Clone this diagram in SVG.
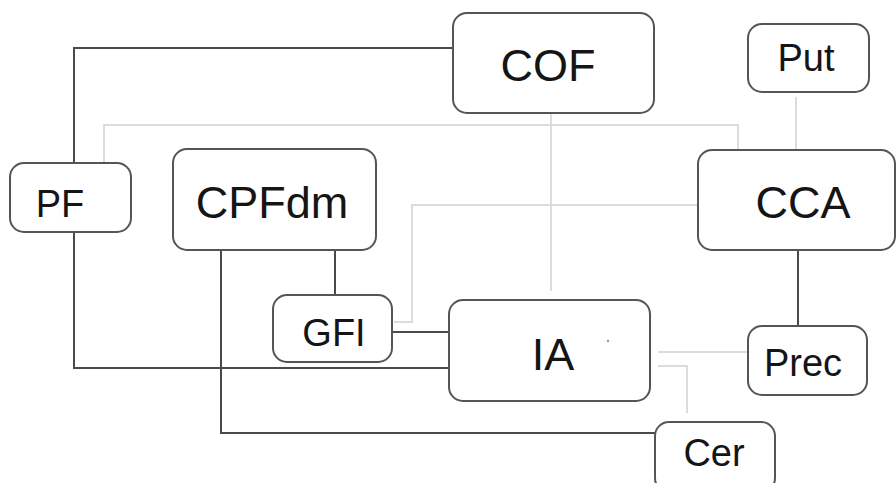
<svg xmlns="http://www.w3.org/2000/svg" width="896" height="483" viewBox="0 0 896 483">
  <style>
    .box { fill: #ffffff; stroke: #555555; stroke-width: 2; }
    .lbl { font-family: "Liberation Sans", Arial, sans-serif; fill: #151515; text-anchor: middle; }
    .big { font-size: 45px; }
    .small { font-size: 38px; }
    .dark { fill: none; stroke: #4a4a4a; stroke-width: 2; }
    .light { fill: none; stroke: #dcdcdc; stroke-width: 2; }
  </style>
  <rect width="896" height="483" fill="#ffffff"/>

  <g id="connectors">
    <!-- strong links -->
    <polyline class="dark" points="74,163 74,48 453,48"/>
    <polyline class="dark" points="74,232 74,368 449,368"/>
    <polyline class="dark" points="335,250 335,295"/>
    <polyline class="dark" points="392,332 449,332"/>
    <polyline class="dark" points="221,250 221,433 655,433"/>
    <polyline class="dark" points="798,250 798,326"/>
    <!-- weak links -->
    <polyline class="light" points="104,163 104,125 738,125 738,150"/>
    <polyline class="light" points="551,113 551,291"/>
    <polyline class="light" points="796,97 796,150"/>
    <polyline class="light" points="698,205 412,205 412,322 394,322"/>
    <polyline class="light" points="658,352 748,352"/>
    <polyline class="light" points="658,366 687,366 687,413"/>
  </g>

  <g id="node-COF">
    <rect class="box" x="453" y="13" width="201" height="100" rx="14"/>
    <text class="lbl big" x="548" y="81">COF</text>
  </g>
  <g id="node-Put">
    <rect class="box" x="748" y="24" width="121" height="68" rx="14"/>
    <text class="lbl small" x="806" y="71">Put</text>
  </g>
  <g id="node-PF">
    <rect class="box" x="10" y="163" width="121" height="69" rx="14"/>
    <text class="lbl small" x="60" y="217">PF</text>
  </g>
  <g id="node-CPFdm">
    <rect class="box" x="173" y="149" width="203" height="101" rx="14"/>
    <text class="lbl big" x="272" y="218">CPFdm</text>
  </g>
  <g id="node-CCA">
    <rect class="box" x="698" y="150" width="197" height="100" rx="14"/>
    <text class="lbl big" x="803" y="218">CCA</text>
  </g>
  <g id="node-GFI">
    <rect class="box" x="273" y="295" width="119" height="67" rx="14"/>
    <text class="lbl small" x="334" y="346">GFI</text>
  </g>
  <g id="node-IA">
    <rect class="box" x="449" y="300" width="201" height="101" rx="14"/>
    <text class="lbl big" x="553" y="370">IA</text>
    <circle cx="608" cy="341" r="1.2" fill="#999999"/>
  </g>
  <g id="node-Prec">
    <rect class="box" x="748" y="326" width="119" height="69" rx="14"/>
    <text class="lbl small" x="803" y="376">Prec</text>
  </g>
  <g id="node-Cer">
    <rect class="box" x="655" y="422" width="120" height="70" rx="14"/>
    <text class="lbl small" x="714" y="466">Cer</text>
  </g>
</svg>
